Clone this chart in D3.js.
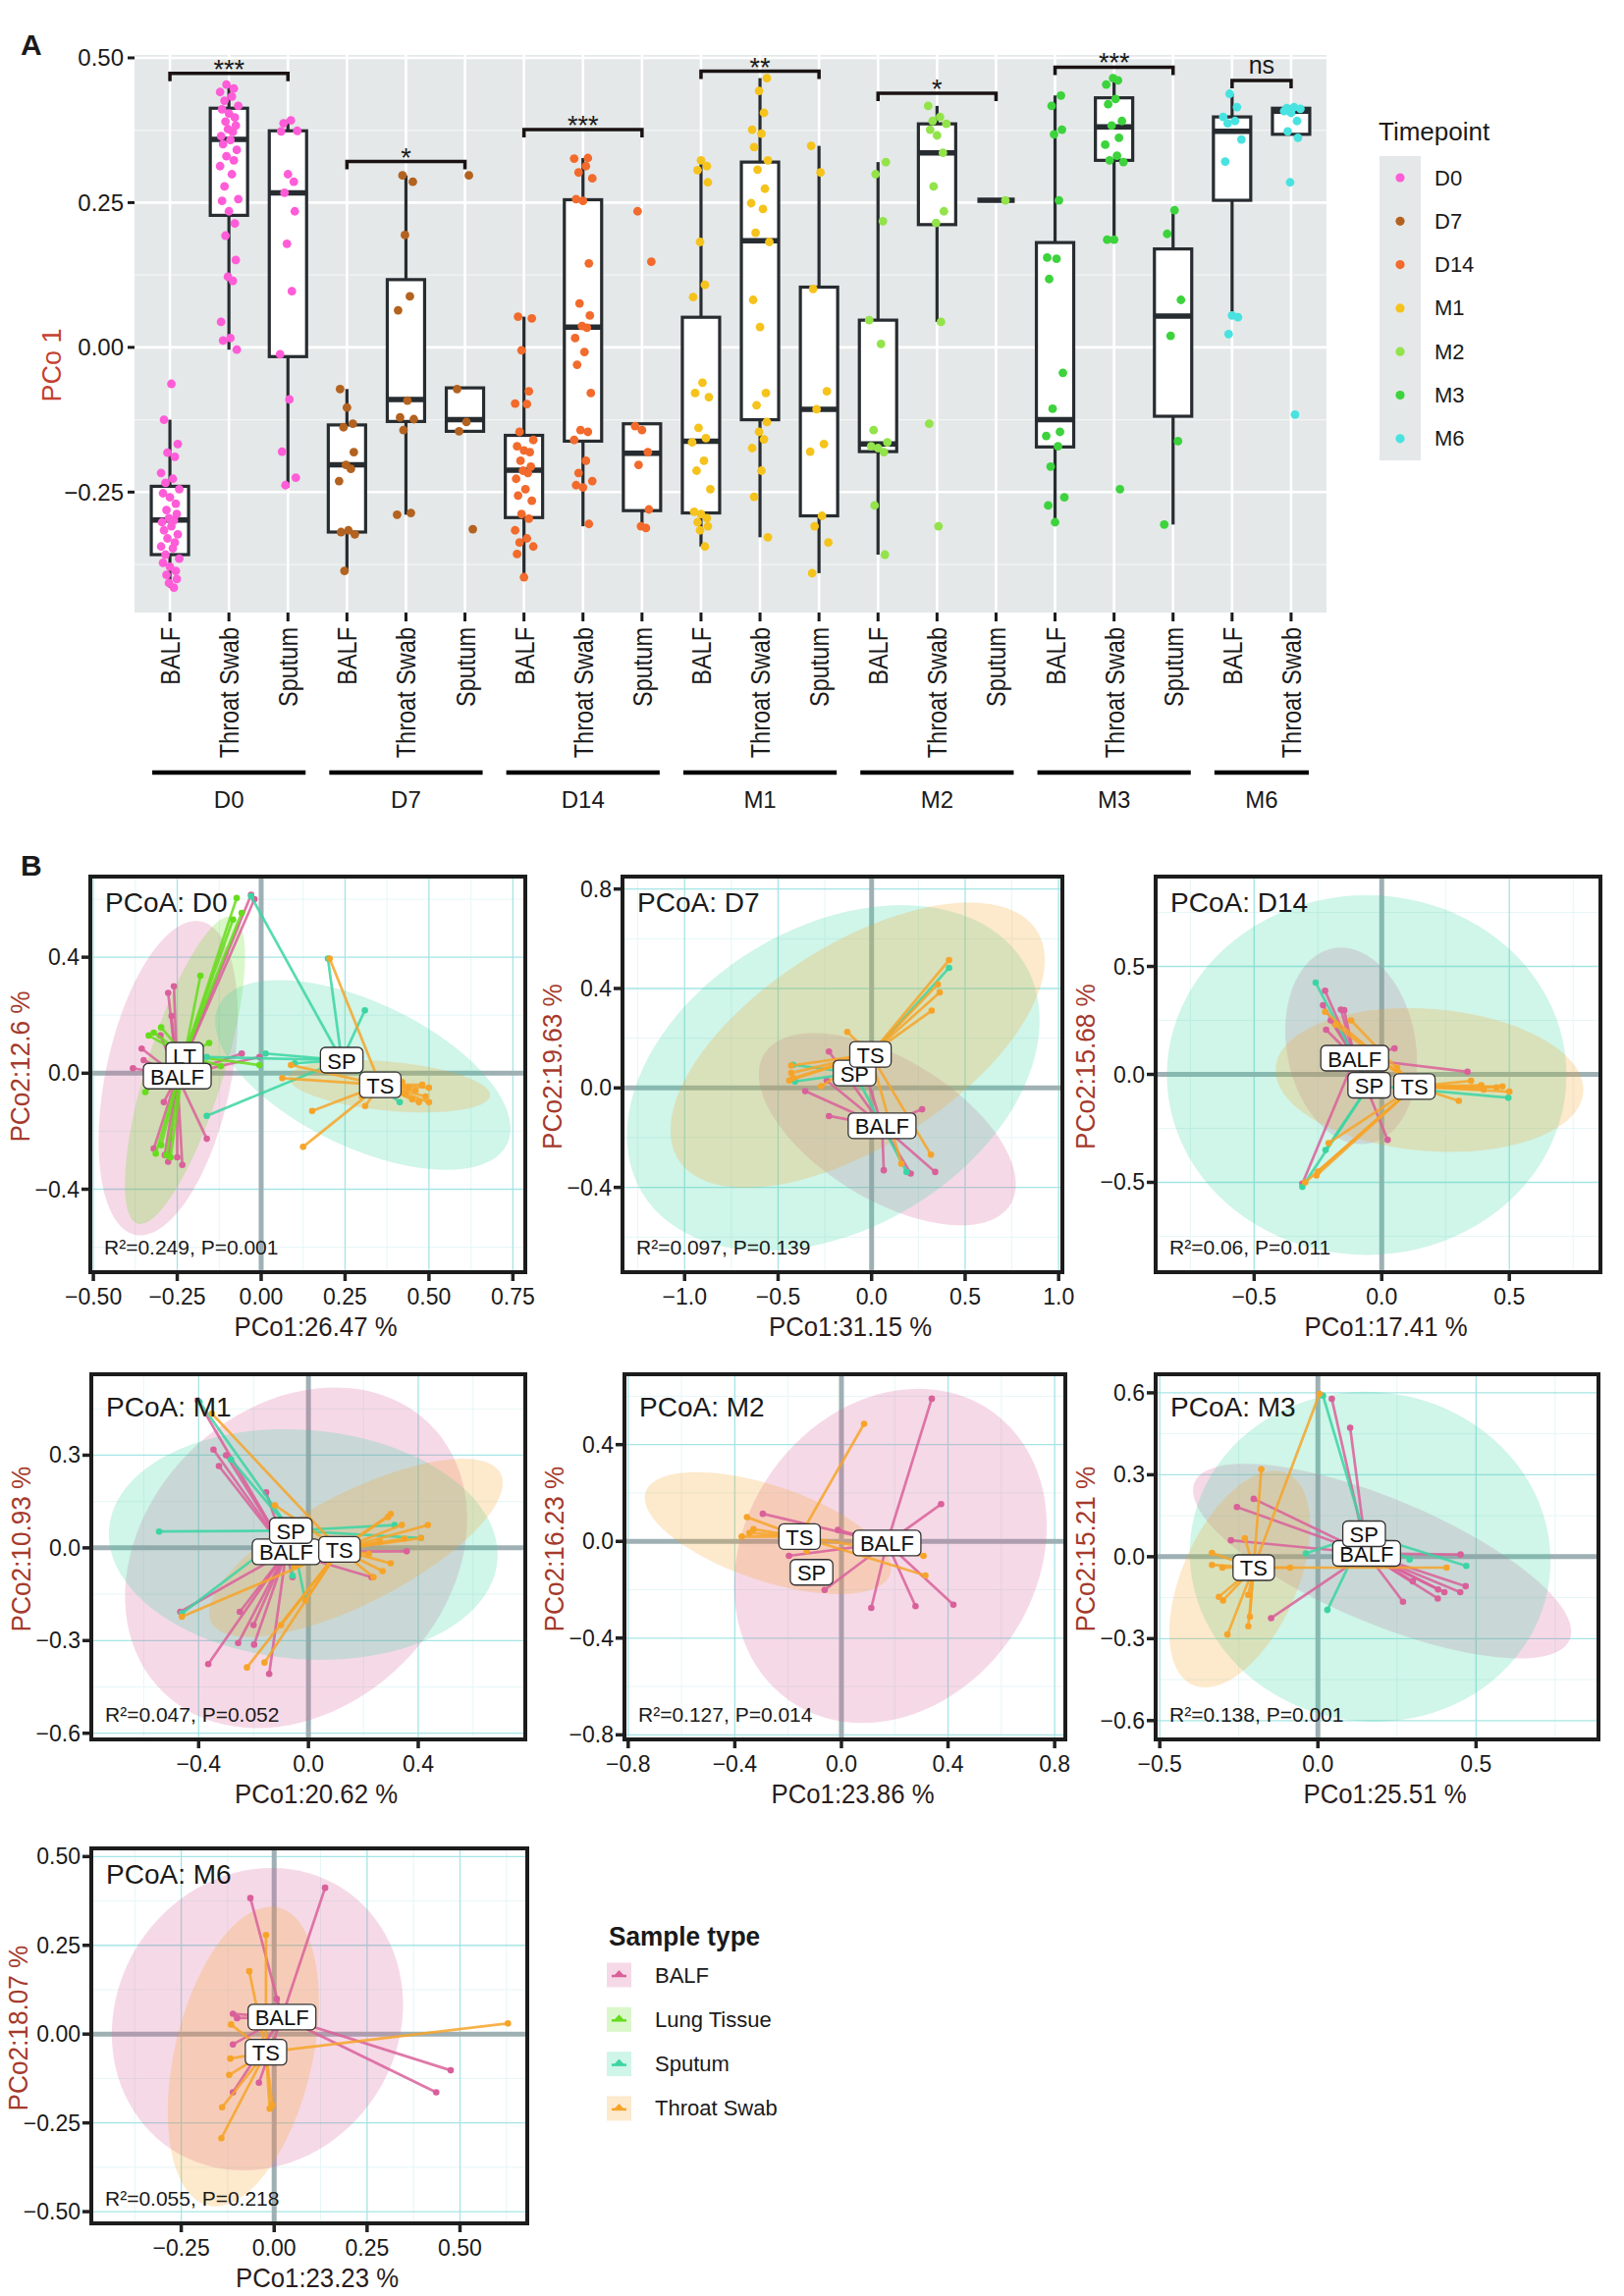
<!DOCTYPE html>
<html lang="en">
<head>
<meta charset="UTF-8">
<title>PCoA figure</title>
<script src="https://cdn.jsdelivr.net/npm/d3@7"></script>
<style>
  body { margin: 0; background: #fff; }
  svg { font-family: "Liberation Sans", Arial, sans-serif; }
</style>
</head>
<body>
<svg id="fig" width="1654" height="2339"></svg>
<script>
// ---------------- panel A data ----------------
const groups = ['D0', 'D7', 'D14', 'M1', 'M2', 'M3', 'M6'];
const groupTypes = [
  ['BALF', 'Throat Swab', 'Sputum'], ['BALF', 'Throat Swab', 'Sputum'], ['BALF', 'Throat Swab', 'Sputum'],
  ['BALF', 'Throat Swab', 'Sputum'], ['BALF', 'Throat Swab', 'Sputum'], ['BALF', 'Throat Swab', 'Sputum'],
  ['BALF', 'Throat Swab']
];
const timeColors = ['#ff5cd8', '#b3621f', '#f26a2c', '#f5c31c', '#93e34a', '#3cd33c', '#48e3e0'];

// box statistics, one per category (20)
const boxLow  = [-0.415, -0.004, -0.242, -0.386, -0.289, -0.145, -0.397, -0.309, -0.312, -0.344, -0.328, -0.390, -0.358, 0.044, 0.254, -0.302, 0.186, -0.306, 0.052, 0.368];
const boxQ1   = [-0.358, 0.228, -0.016, -0.319, -0.128, -0.145, -0.294, -0.162, -0.282, -0.286, -0.125, -0.291, -0.180, 0.212, 0.254, -0.172, 0.323, -0.119, 0.254, 0.368];
const boxMed  = [-0.298, 0.359, 0.267, -0.203, -0.090, -0.125, -0.212, 0.035, -0.183, -0.162, 0.184, -0.107, -0.167, 0.336, 0.254, -0.125, 0.381, 0.054, 0.373, 0.408];
const boxQ3   = [-0.240, 0.413, 0.374, -0.134, 0.117, -0.070, -0.152, 0.255, -0.132, 0.052, 0.320, 0.104, 0.047, 0.386, 0.254, 0.181, 0.431, 0.170, 0.398, 0.413];
const boxHigh = [-0.125, 0.454, 0.394, -0.072, 0.297, -0.070, 0.053, 0.327, -0.132, 0.323, 0.465, 0.348, 0.320, 0.417, 0.254, 0.435, 0.465, 0.237, 0.438, 0.418];

// points per timepoint: [BALF, Throat Swab, Sputum]
const ptsD0 = [
  [-0.063, -0.125, -0.167, -0.182, -0.189, -0.217, -0.227, -0.234, -0.245, -0.252, -0.259, -0.27, -0.281, -0.288, -0.295, -0.299, -0.302, -0.309, -0.316, -0.323, -0.33, -0.337, -0.344, -0.347, -0.358, -0.365, -0.372, -0.379, -0.386, -0.393, -0.4, -0.407, -0.415],
  [0.454, 0.447, 0.441, 0.433, 0.426, 0.417, 0.411, 0.404, 0.397, 0.39, 0.383, 0.377, 0.372, 0.365, 0.358, 0.351, 0.341, 0.33, 0.323, 0.313, 0.299, 0.278, 0.256, 0.253, 0.235, 0.214, 0.193, 0.151, 0.122, 0.115, 0.044, 0.016, 0.012, -0.004],
  [0.392, 0.387, 0.374, 0.373, 0.299, 0.286, 0.267, 0.235, 0.179, 0.097, -0.012, -0.09, -0.18, -0.225, -0.238]
];
const ptsD7 = [
  [-0.072, -0.104, -0.132, -0.138, -0.181, -0.203, -0.21, -0.231, -0.316, -0.319, -0.323, -0.386],
  [0.297, 0.286, 0.194, 0.088, 0.064, -0.092, -0.121, -0.124, -0.143, -0.286, -0.289],
  [0.297, -0.072, -0.129, -0.145, -0.314]
];
const ptsD14 = [
  [0.053, 0.05, -0.005, -0.076, -0.097, -0.098, -0.146, -0.16, -0.171, -0.178, -0.181, -0.196, -0.206, -0.213, -0.217, -0.227, -0.245, -0.256, -0.265, -0.288, -0.296, -0.316, -0.33, -0.337, -0.344, -0.357, -0.397],
  [0.327, 0.326, 0.313, 0.302, 0.292, 0.256, 0.253, 0.145, 0.076, 0.055, 0.037, 0.034, 0.016, -0.008, -0.03, -0.079, -0.143, -0.146, -0.16, -0.196, -0.217, -0.231, -0.238, -0.242, -0.305],
  [0.235, 0.148, -0.136, -0.143, -0.181, -0.203, -0.28, -0.309, -0.312]
];
const ptsM1 = [
  [0.323, 0.313, 0.306, 0.285, 0.182, 0.108, 0.087, -0.061, -0.079, -0.086, -0.139, -0.157, -0.164, -0.196, -0.213, -0.245, -0.284, -0.288, -0.295, -0.302, -0.309, -0.316, -0.344],
  [0.465, 0.443, 0.405, 0.376, 0.369, 0.346, 0.323, 0.307, 0.274, 0.249, 0.239, 0.198, 0.182, 0.082, 0.035, -0.079, -0.1, -0.129, -0.146, -0.159, -0.174, -0.213, -0.258, -0.328],
  [0.348, 0.302, 0.101, -0.076, -0.107, -0.167, -0.18, -0.291, -0.309, -0.337, -0.39]
];
const ptsM2 = [
  [0.32, 0.299, 0.218, 0.047, 0.006, -0.143, -0.164, -0.171, -0.174, -0.181, -0.273, -0.358],
  [0.417, 0.398, 0.391, 0.386, 0.376, 0.366, 0.336, 0.278, 0.235, 0.215, 0.044, -0.132, -0.309],
  [0.254]
];
const ptsM3 = [
  [0.435, 0.417, 0.376, 0.368, 0.254, 0.155, 0.153, 0.118, -0.044, -0.106, -0.146, -0.153, -0.171, -0.206, -0.259, -0.273, -0.302],
  [0.465, 0.461, 0.454, 0.429, 0.42, 0.391, 0.383, 0.362, 0.35, 0.331, 0.323, 0.32, 0.186, 0.186, -0.245],
  [0.237, 0.196, 0.082, 0.02, -0.162, -0.306]
];
const ptsM6 = [
  [0.438, 0.415, 0.398, 0.391, 0.387, 0.359, 0.321, 0.055, 0.052, 0.023],
  [0.415, 0.413, 0.412, 0.408, 0.405, 0.391, 0.373, 0.362, 0.285, -0.116]
];
const ptsByGroup = [ptsD0, ptsD7, ptsD14, ptsM1, ptsM2, ptsM3, ptsM6];

const sigY = [0.473, 0.321, 0.376, 0.477, 0.439, 0.484, 0.461];
const sigLabel = ['***', '*', '***', '**', '*', '***', 'ns'];
const yTicksA = [-0.25, 0, 0.25, 0.5];

// ---------------- panel B data ----------------
const typeKeys = ['BALF', 'LT', 'SP', 'TS'];
const typeNames = ['BALF', 'Lung Tissue', 'Sputum', 'Throat Swab'];
const typeColors = ['#d9609a', '#66dc1c', '#3bd5a2', '#f6a429'];

const pcoaNames = ['D0', 'D7', 'D14', 'M1', 'M2', 'M3', 'M6'];
const pcoaXTitle = ['PCo1:26.47 %', 'PCo1:31.15 %', 'PCo1:17.41 %', 'PCo1:20.62 %', 'PCo1:23.86 %', 'PCo1:25.51 %', 'PCo1:23.23 %'];
const pcoaYTitle = ['PCo2:12.6 %', 'PCo2:19.63 %', 'PCo2:15.68 %', 'PCo2:10.93 %', 'PCo2:16.23 %', 'PCo2:15.21 %', 'PCo2:18.07 %'];
const pcoaStat = ['R²=0.249, P=0.001', 'R²=0.097, P=0.139', 'R²=0.06, P=0.011', 'R²=0.047, P=0.052', 'R²=0.127, P=0.014', 'R²=0.138, P=0.001', 'R²=0.055, P=0.218'];
const pcoaXDomain = [[-0.509, 0.787], [-1.332, 1.02], [-0.886, 0.857], [-0.791, 0.79], [-0.814, 0.84], [-0.513, 0.887], [-0.492, 0.681]];
const pcoaYDomain = [[-0.686, 0.678], [-0.741, 0.85], [-0.916, 0.916], [-0.62, 0.562], [-0.819, 0.691], [-0.669, 0.668], [-0.533, 0.523]];
const pcoaXTicks = [[-0.5, -0.25, 0, 0.25, 0.5, 0.75], [-1, -0.5, 0, 0.5, 1], [-0.5, 0, 0.5], [-0.4, 0, 0.4], [-0.8, -0.4, 0, 0.4, 0.8], [-0.5, 0, 0.5], [-0.25, 0, 0.25, 0.5]];
const pcoaYTicks = [[-0.4, 0, 0.4], [-0.4, 0, 0.4, 0.8], [-0.5, 0, 0.5], [-0.6, -0.3, 0, 0.3], [-0.8, -0.4, 0, 0.4], [-0.6, -0.3, 0, 0.3, 0.6], [-0.5, -0.25, 0, 0.25, 0.5]];
const pcoaXFmt = ['.2f', '.1f', '.1f', '.1f', '.1f', '.1f', '.2f'];
const pcoaYFmt = ['.1f', '.1f', '.1f', '.1f', '.1f', '.1f', '.2f'];

// centroids [x, y] per type (BALF, LT, SP, TS); null = type absent
const d0Cent  = [[-0.25, -0.01], [-0.228, 0.062], [0.24, 0.045], [0.355, -0.04]];
const d7Cent  = [[0.056, -0.152], null, [-0.091, 0.06], [-0.006, 0.135]];
const d14Cent = [[-0.106, 0.075], null, [-0.049, -0.05], [0.128, -0.056]];
const m1Cent  = [[-0.081, -0.013], null, [-0.064, 0.056], [0.113, -0.005]];
const m2Cent  = [[0.171, -0.007], null, [-0.112, -0.128], [-0.157, 0.02]];
const m3Cent  = [[0.154, 0.012], null, [0.146, 0.084], [-0.203, -0.04]];
const m6Cent  = [[0.021, 0.048], null, null, [-0.022, -0.051]];

// sample scores per type
const d0Pts = [
  [[-0.03, 0.615], [-0.02, 0.6], [-0.277, 0.277], [-0.267, 0.197], [-0.356, 0.085], [-0.382, 0.017], [-0.31, -0.045], [-0.162, -0.226], [-0.277, -0.305], [-0.235, -0.316], [-0.287, -0.282], [-0.058, 0.068], [-0.005, 0.056], [-0.35, 0.045], [-0.34, -0.03], [-0.3, 0.13], [-0.26, 0.3], [-0.32, -0.26], [-0.25, -0.29], [-0.29, -0.1]],
  [[-0.073, 0.604], [-0.084, 0.53], [-0.058, 0.553], [-0.181, 0.336], [-0.298, 0.158], [-0.335, 0.13], [-0.155, 0.104], [-0.12, 0.025], [-0.005, 0.028], [-0.345, -0.065], [-0.314, -0.277], [-0.298, -0.248], [-0.282, -0.282], [-0.27, -0.29], [-0.32, 0.14]],
  [[-0.03, 0.61], [0.199, 0.395], [0.309, 0.217], [0.013, 0.068], [-0.162, -0.147], [-0.162, 0.056], [0.413, -0.1], [0.1, 0.034]],
  [[0.204, 0.395], [0.125, -0.254], [0.152, -0.13], [0.063, -0.017], [0.089, 0.028], [0.42, -0.03], [0.44, -0.05], [0.46, -0.06], [0.48, -0.04], [0.5, -0.05], [0.49, -0.08], [0.5, -0.1], [0.45, -0.09], [0.43, -0.07], [0.31, -0.113], [0.3, -0.08], [0.38, -0.02], [0.47, -0.1]]
];
const d7Pts = [
  [[-0.228, 0.146], [-0.24, 0.03], [-0.355, -0.013], [-0.228, -0.113], [0.27, -0.086], [0.065, -0.331], [0.209, -0.344], [0.34, -0.338], [-0.019, 0.026]],
  null,
  [[0.414, 0.483], [-0.42, 0.093], [-0.41, 0.026], [0.187, -0.338]],
  [[0.414, 0.514], [0.354, 0.417], [0.364, 0.384], [0.321, 0.311], [-0.13, 0.225], [-0.43, 0.09], [-0.43, 0.06], [-0.42, 0.04], [-0.44, 0.03], [-0.27, 0.007], [0.317, -0.268], [0.159, -0.305]]
];
const d14Pts = [
  [[-0.222, 0.387], [-0.147, 0.297], [-0.218, 0.207], [-0.23, 0.32], [0.336, 0.012], [0.023, -0.303], [-0.311, -0.506], [0.05, 0.12], [-0.2, 0.25], [-0.16, 0.3]],
  null,
  [[-0.259, 0.425], [0.496, -0.108], [-0.311, -0.521], [-0.22, -0.35]],
  [[-0.222, 0.29], [-0.12, 0.25], [0.473, -0.056], [0.5, -0.08], [0.45, -0.06], [0.39, -0.05], [0.302, -0.123], [-0.208, -0.318], [-0.256, -0.468], [-0.3, -0.5], [0.06, 0.03], [0.35, -0.03], [0.4, -0.07], [-0.18, 0.23], [-0.25, -0.45]]
];
const m1Pts = [
  [[-0.403, 0.477], [-0.346, 0.318], [-0.326, 0.265], [-0.154, 0.18], [0.358, -0.011], [0.23, -0.095], [-0.467, -0.207], [-0.25, -0.207], [-0.256, -0.308], [-0.198, -0.313], [-0.365, -0.376], [-0.143, -0.408], [-0.058, -0.095], [-0.3, 0.3], [-0.2, -0.25]],
  null,
  [[-0.397, 0.472], [-0.282, 0.286], [-0.544, 0.053], [-0.461, -0.212], [-0.013, -0.164], [-0.058, -0.09], [0.314, 0.074], [0.41, 0.032]],
  [[-0.352, 0.435], [-0.122, 0.138], [-0.461, -0.223], [-0.224, -0.387], [-0.16, -0.371], [0.3, 0.11], [0.29, 0.1], [0.34, 0.074], [0.435, 0.074], [0.41, 0.032], [0.237, -0.095], [0.27, -0.075], [0.3, -0.05], [0.22, -0.02], [-0.05, -0.06], [0.35, 0.03], [0.26, 0.02], [-0.1, -0.25], [-0.01, -0.17]]
];
const m2Pts = [
  [[0.339, 0.59], [0.374, 0.154], [-0.295, 0.114], [-0.197, -0.06], [-0.063, -0.201], [0.112, -0.275], [0.278, -0.268], [0.42, -0.262], [-0.013, 0.047]],
  null,
  [[-0.112, -0.128]],
  [[0.085, 0.486], [-0.354, 0.1], [-0.374, 0.02], [-0.33, 0.05], [-0.345, 0.035], [0.308, -0.06], [0.315, -0.141], [-0.13, -0.04]]
];
const m3Pts = [
  [[0.044, 0.578], [0.102, 0.472], [-0.203, 0.212], [-0.256, 0.182], [-0.275, 0.06], [-0.148, -0.225], [0.269, -0.165], [0.379, -0.153], [0.451, 0.008], [0.467, -0.108], [0.45, -0.13], [0.4, -0.13], [0.38, -0.12], [0.3, -0.09]],
  null,
  [[0.016, 0.59], [0.469, -0.034], [0.03, -0.195], [-0.038, 0.012], [0.29, -0.01]],
  [[0.005, 0.596], [-0.179, 0.32], [-0.231, 0.068], [-0.335, 0.014], [-0.335, -0.03], [-0.302, -0.04], [-0.313, -0.147], [-0.286, -0.285], [-0.22, -0.255], [-0.215, -0.22], [-0.088, -0.04], [0.407, -0.04], [-0.3, -0.16], [-0.22, -0.14]]
];
const m6Pts = [
  [[-0.064, 0.383], [0.137, 0.412], [0.475, -0.102], [0.436, -0.164], [-0.111, 0.057], [-0.1, 0.045], [-0.111, -0.029], [-0.041, -0.137], [-0.111, -0.164], [0.007, 0.099]],
  null,
  null,
  [[-0.022, 0.279], [-0.067, 0.177], [0.629, 0.03], [-0.116, 0.027], [-0.118, -0.069], [-0.121, -0.115], [-0.14, -0.206], [-0.142, -0.293], [-0.012, -0.21], [-0.005, -0.2]]
];

// ellipses: [cx, cy, ax, ay, bx, by] (conjugate semi-axes, data units)
const d0Ell  = [[-0.277, -0.017, 0.083, 0.542, 0.19, 0], [-0.227, 0.01, 0.133, 0.53, 0.12, 0], [0.303, -0.006, 0.44, -0.185, 0, 0.27], [0.382, -0.045, 0.3, -0.03, 0, 0.085]];
const d7Ell  = [[0.084, -0.166, 0.651, -0.311, -0.22, -0.23], null, [-0.205, 0.04, 0.993, 0.494, 0.481, -0.489], [-0.075, 0.172, 0.948, 0.472, 0.321, -0.326]];
const d14Ell = [[-0.12, 0.132, -0.04, 0.455, 0.255, 0], null, [-0.059, -0.003, 0.783, 0, 0, 0.833], [0.187, -0.026, 0.603, -0.045, 0, 0.33]];
const m1Ell  = [[-0.045, -0.032, 0.43, 0.475, 0.451, -0.28], null, [-0.019, 0.011, 0.704, -0.074, -0.077, -0.366], [0.173, 0.0, 0.525, 0.244, 0.102, -0.154]];
const m2Ell  = [[0.184, -0.06, 0.105, 0.691, 0.577, 0], null, null, [-0.276, 0.034, 0.459, -0.168, -0.052, -0.188]];
const m3Ell  = [[0.203, -0.016, 0.593, -0.288, -0.077, -0.21], null, [0.165, 0.0, 0.44, -0.396, -0.363, -0.456], [-0.247, -0.082, 0.121, 0.396, 0.187, -0.024]];
const m6Ell  = [[-0.045, 0.042, 0.038, 0.426, 0.39, 0], null, null, [-0.083, -0.063, -0.075, -0.422, 0.189, 0]];

const pcoaCent = [d0Cent, d7Cent, d14Cent, m1Cent, m2Cent, m3Cent, m6Cent];
const pcoaPts = [d0Pts, d7Pts, d14Pts, m1Pts, m2Pts, m3Pts, m6Pts];
const pcoaEll = [d0Ell, d7Ell, d14Ell, m1Ell, m2Ell, m3Ell, m6Ell];

// ---------------- layout ----------------
const svg = d3.select('#fig');
const ink = '#1a1a1a';
const boxInk = '#272c30';

function label(parent, x, y, s, size, o = {}) {
  const t = parent.append('text')
    .attr('transform', `translate(${x},${y})` + (o.rot ? ` rotate(${o.rot})` : '') + (o.sx ? ` scale(${o.sx},1)` : ''))
    .attr('font-size', size)
    .attr('text-anchor', o.anchor || 'start')
    .attr('fill', o.fill || ink)
    .text(s);
  if (o.bold) t.attr('font-weight', 'bold');
  if (o.mid) t.attr('dominant-baseline', 'central');
  return t;
}

// ================= PANEL A =================
const A = { x0: 137, x1: 1351, y0: 56, y1: 624 };
const cats = [];
groups.forEach((g, gi) => groupTypes[gi].forEach((t, ti) => cats.push({ g, gi, t, ti, key: g + '|' + t })));

const xA = d3.scalePoint().domain(cats.map(c => c.key)).range([A.x0, A.x1]).padding(0.6);
const yA = d3.scaleLinear().domain([-0.458, 0.505]).range([A.y1, A.y0]);

const gA = svg.append('g');
gA.append('rect').attr('x', A.x0).attr('y', A.y0).attr('width', A.x1 - A.x0).attr('height', A.y1 - A.y0).attr('fill', '#e4e8e8');

// minor + major grid
[-0.375, -0.125, 0.125, 0.375].forEach(v => {
  gA.append('line').attr('x1', A.x0).attr('x2', A.x1).attr('y1', yA(v)).attr('y2', yA(v))
    .attr('stroke', '#f3f5f5').attr('stroke-width', 1.2);
});
yTicksA.forEach(v => {
  gA.append('line').attr('x1', A.x0).attr('x2', A.x1).attr('y1', yA(v)).attr('y2', yA(v))
    .attr('stroke', '#fff').attr('stroke-width', 2.6);
});
cats.forEach(c => {
  gA.append('line').attr('x1', xA(c.key)).attr('x2', xA(c.key)).attr('y1', A.y0).attr('y2', A.y1)
    .attr('stroke', '#fff').attr('stroke-width', 2.6);
});

// boxes
const JIT = [0.15, -0.6, 0.8, -0.25, 0.5, -0.9, 0.3, -0.45, 0.95, -0.7, 0.0, 0.6, -0.35, 0.7, -0.1, 0.4, -0.8];
const bw = 38;
cats.forEach((c, i) => {
  const cx = xA(c.key);
  const col = timeColors[c.gi];
  gA.append('line').attr('x1', cx).attr('x2', cx).attr('y1', yA(boxHigh[i])).attr('y2', yA(boxQ3[i]))
    .attr('stroke', boxInk).attr('stroke-width', 3.2);
  gA.append('line').attr('x1', cx).attr('x2', cx).attr('y1', yA(boxQ1[i])).attr('y2', yA(boxLow[i]))
    .attr('stroke', boxInk).attr('stroke-width', 3.2);
  gA.append('rect').attr('x', cx - bw / 2).attr('y', yA(boxQ3[i])).attr('width', bw)
    .attr('height', Math.max(0, yA(boxQ1[i]) - yA(boxQ3[i])))
    .attr('fill', '#fff').attr('stroke', boxInk).attr('stroke-width', 3.2);
  gA.append('line').attr('x1', cx - bw / 2).attr('x2', cx + bw / 2).attr('y1', yA(boxMed[i])).attr('y2', yA(boxMed[i]))
    .attr('stroke', boxInk).attr('stroke-width', 5.5);
  const vals = ptsByGroup[c.gi][c.ti];
  gA.append('g').selectAll('circle').data(vals).enter().append('circle')
    .attr('cx', (d, k) => cx + JIT[(k + i * 3) % JIT.length] * 10)
    .attr('cy', d => yA(d))
    .attr('r', 4.4)
    .attr('fill', col);
});

// significance brackets
groups.forEach((g, gi) => {
  const ks = cats.filter(c => c.gi === gi).map(c => xA(c.key));
  const xl = ks[0], xr = ks[ks.length - 1], yy = yA(sigY[gi]);
  gA.append('path').attr('d', `M${xl},${yy + 8}V${yy}H${xr}V${yy + 8}`)
    .attr('fill', 'none').attr('stroke', '#1a1212').attr('stroke-width', 3.5);
  if (sigLabel[gi] === 'ns') label(gA, (xl + xr) / 2, yy - 7, 'ns', 25, { anchor: 'middle' });
  else label(gA, (xl + xr) / 2, yy + 5, sigLabel[gi], 27, { anchor: 'middle' });
});

// y axis
yTicksA.forEach(v => {
  gA.append('line').attr('x1', A.x0 - 7).attr('x2', A.x0).attr('y1', yA(v)).attr('y2', yA(v))
    .attr('stroke', ink).attr('stroke-width', 3);
  label(gA, A.x0 - 11, yA(v), d3.format('.2f')(v), 24, { anchor: 'end', mid: true });
});
label(gA, 62, 372, 'PCo 1', 27, { anchor: 'middle', rot: -90, fill: '#c4412f' });

// x axis
cats.forEach(c => {
  const cx = xA(c.key);
  gA.append('line').attr('x1', cx).attr('x2', cx).attr('y1', A.y1).attr('y2', A.y1 + 9)
    .attr('stroke', ink).attr('stroke-width', 3);
  label(gA, cx + 10, A.y1 + 15, c.t, 28, { anchor: 'end', rot: -90, sx: 0.84 });
});
groups.forEach((g, gi) => {
  const ks = cats.filter(c => c.gi === gi).map(c => xA(c.key));
  const xl = ks[0] - 18, xr = ks[ks.length - 1] + 18;
  gA.append('line').attr('x1', xl).attr('x2', xr).attr('y1', 787).attr('y2', 787)
    .attr('stroke', '#000').attr('stroke-width', 4.5);
  label(gA, (xl + xr) / 2, 823, g, 24, { anchor: 'middle' });
});

// timepoint legend
label(gA, 1404, 143, 'Timepoint', 26);
gA.append('rect').attr('x', 1405).attr('y', 159).attr('width', 42).attr('height', 310).attr('fill', '#e4e8e8');
groups.forEach((g, gi) => {
  const yy = 181 + gi * 44.3;
  gA.append('circle').attr('cx', 1426).attr('cy', yy).attr('r', 4.6).attr('fill', timeColors[gi]);
  label(gA, 1461, yy, g, 22, { mid: true });
});

label(svg, 21, 56, 'A', 30, { bold: true });
label(svg, 21, 892, 'B', 30, { bold: true });

// ================= PANEL B =================
const frames = [
  [92, 535, 893, 1296], [634, 1082, 893, 1296], [1177, 1630, 893, 1296],
  [93, 535, 1400, 1772], [636, 1085, 1400, 1772], [1177, 1628, 1400, 1772],
  [93, 537, 1883, 2265]
];
const defs = svg.append('defs');

function gridSet(ticks, dom) {
  const step = ticks[1] - ticks[0];
  const out = [];
  for (let k = -4; k < ticks.length + 4; k++) {
    const v = ticks[0] + (k + 0.5) * step;
    if (v > dom[0] && v < dom[1]) out.push(v);
  }
  return out;
}

pcoaNames.forEach((nm, pi) => {
  const [fx0, fx1, fy0, fy1] = frames[pi];
  const x = d3.scaleLinear().domain(pcoaXDomain[pi]).range([fx0, fx1]);
  const y = d3.scaleLinear().domain(pcoaYDomain[pi]).range([fy1, fy0]);
  const g = svg.append('g');
  defs.append('clipPath').attr('id', 'cp' + pi).append('rect')
    .attr('x', fx0).attr('y', fy0).attr('width', fx1 - fx0).attr('height', fy1 - fy0);
  const pg = g.append('g').attr('clip-path', `url(#cp${pi})`);

  // grid
  gridSet(pcoaXTicks[pi], pcoaXDomain[pi]).forEach(v => pg.append('line')
    .attr('x1', x(v)).attr('x2', x(v)).attr('y1', fy0).attr('y2', fy1).attr('stroke', '#e6f6f6').attr('stroke-width', 1));
  gridSet(pcoaYTicks[pi], pcoaYDomain[pi]).forEach(v => pg.append('line')
    .attr('y1', y(v)).attr('y2', y(v)).attr('x1', fx0).attr('x2', fx1).attr('stroke', '#e6f6f6').attr('stroke-width', 1));
  pcoaXTicks[pi].forEach(v => pg.append('line')
    .attr('x1', x(v)).attr('x2', x(v)).attr('y1', fy0).attr('y2', fy1).attr('stroke', '#a6e4e4').attr('stroke-width', 1.3));
  pcoaYTicks[pi].forEach(v => pg.append('line')
    .attr('y1', y(v)).attr('y2', y(v)).attr('x1', fx0).attr('x2', fx1).attr('stroke', '#a6e4e4').attr('stroke-width', 1.3));
  // zero lines
  pg.append('line').attr('x1', x(0)).attr('x2', x(0)).attr('y1', fy0).attr('y2', fy1).attr('stroke', '#9fb0b4').attr('stroke-width', 5);
  pg.append('line').attr('y1', y(0)).attr('y2', y(0)).attr('x1', fx0).attr('x2', fx1).attr('stroke', '#9fb0b4').attr('stroke-width', 5);

  // ellipses
  const line = d3.line().curve(d3.curveLinearClosed);
  pcoaEll[pi].forEach((e, ti) => {
    if (!e) return;
    const pts = d3.range(0, 96).map(k => {
      const t = k / 96 * 2 * Math.PI;
      return [x(e[0] + Math.cos(t) * e[2] + Math.sin(t) * e[4]), y(e[1] + Math.cos(t) * e[3] + Math.sin(t) * e[5])];
    });
    pg.append('path').attr('d', line(pts)).attr('fill', typeColors[ti]).attr('fill-opacity', 0.24);
  });

  // spiders
  pcoaPts[pi].forEach((ps, ti) => {
    if (!ps) return;
    const c = pcoaCent[pi][ti];
    const sg = pg.append('g');
    sg.selectAll('line').data(ps).enter().append('line')
      .attr('x1', x(c[0])).attr('y1', y(c[1]))
      .attr('x2', d => x(d[0])).attr('y2', d => y(d[1]))
      .attr('stroke', typeColors[ti]).attr('stroke-opacity', 0.85).attr('stroke-width', 2.7);
    sg.selectAll('circle').data(ps).enter().append('circle')
      .attr('cx', d => x(d[0])).attr('cy', d => y(d[1])).attr('r', 3.3)
      .attr('fill', typeColors[ti]);
  });

  // centroid labels
  [1, 0, 2, 3].forEach(ti => {
    const c = pcoaCent[pi][ti];
    if (!c) return;
    const lg = g.append('g');
    const t = lg.append('text').attr('x', x(c[0])).attr('y', y(c[1]) + 1)
      .attr('text-anchor', 'middle').attr('dominant-baseline', 'central')
      .attr('font-size', 22).attr('fill', '#111').text(typeKeys[ti]);
    const w = t.node().getComputedTextLength();
    lg.insert('rect', 'text').attr('x', x(c[0]) - w / 2 - 7).attr('y', y(c[1]) - 13)
      .attr('width', w + 14).attr('height', 26).attr('rx', 5)
      .attr('fill', '#fff').attr('stroke', '#333').attr('stroke-width', 1.3);
  });

  // frame
  g.append('rect').attr('x', fx0).attr('y', fy0).attr('width', fx1 - fx0).attr('height', fy1 - fy0)
    .attr('fill', 'none').attr('stroke', '#1c1c1c').attr('stroke-width', 4);

  // axes
  pcoaXTicks[pi].forEach(v => {
    g.append('line').attr('x1', x(v)).attr('x2', x(v)).attr('y1', fy1 + 2).attr('y2', fy1 + 9)
      .attr('stroke', '#222').attr('stroke-width', 3.5);
    label(g, x(v), fy1 + 33, d3.format(pcoaXFmt[pi])(v), 23, { anchor: 'middle' });
  });
  let minLeft = fx0;
  pcoaYTicks[pi].forEach(v => {
    g.append('line').attr('x1', fx0 - 9).attr('x2', fx0 - 2).attr('y1', y(v)).attr('y2', y(v))
      .attr('stroke', '#222').attr('stroke-width', 3.5);
    const t = label(g, fx0 - 11, y(v), d3.format(pcoaYFmt[pi])(v), 23, { anchor: 'end', mid: true });
    minLeft = Math.min(minLeft, fx0 - 11 - t.node().getComputedTextLength());
  });
  label(g, (fx0 + fx1) / 2 + 8, fy1 + 65, pcoaXTitle[pi], 28, { anchor: 'middle', sx: 0.92, fill: '#2a1c1c' });
  label(g, Math.max(minLeft - 6, fx0 < 100 ? 28 : 0), (fy0 + fy1) / 2 - 8, pcoaYTitle[pi], 27, { anchor: 'middle', rot: -90, sx: 0.97, fill: '#a53a2c' });

  // title + stats
  label(g, fx0 + 15, fy0 + (pi >= 3 && pi <= 5 ? 43 : 36), 'PCoA: ' + nm, 28);
  label(g, fx0 + 14, fy1 - 18, pcoaStat[pi], 21);
});

// sample type legend
const gL = svg.append('g');
label(gL, 620, 1982, 'Sample type', 27, { bold: true, sx: 0.97 });
typeNames.forEach((nm, ti) => {
  const yy = 2012 + ti * 45.3;
  gL.append('rect').attr('x', 618).attr('y', yy - 12.5).attr('width', 25).attr('height', 25)
    .attr('fill', typeColors[ti]).attr('fill-opacity', 0.24);
  gL.append('line').attr('x1', 623).attr('x2', 638).attr('y1', yy + 1).attr('y2', yy + 1)
    .attr('stroke', typeColors[ti]).attr('stroke-width', 2.5);
  gL.append('path').attr('d', `M${625},${yy + 1}L${630.5},${yy - 5}L${636},${yy + 1}Z`).attr('fill', typeColors[ti]);
  label(gL, 667, yy, nm, 22, { mid: true });
});
</script>
</body>
</html>
